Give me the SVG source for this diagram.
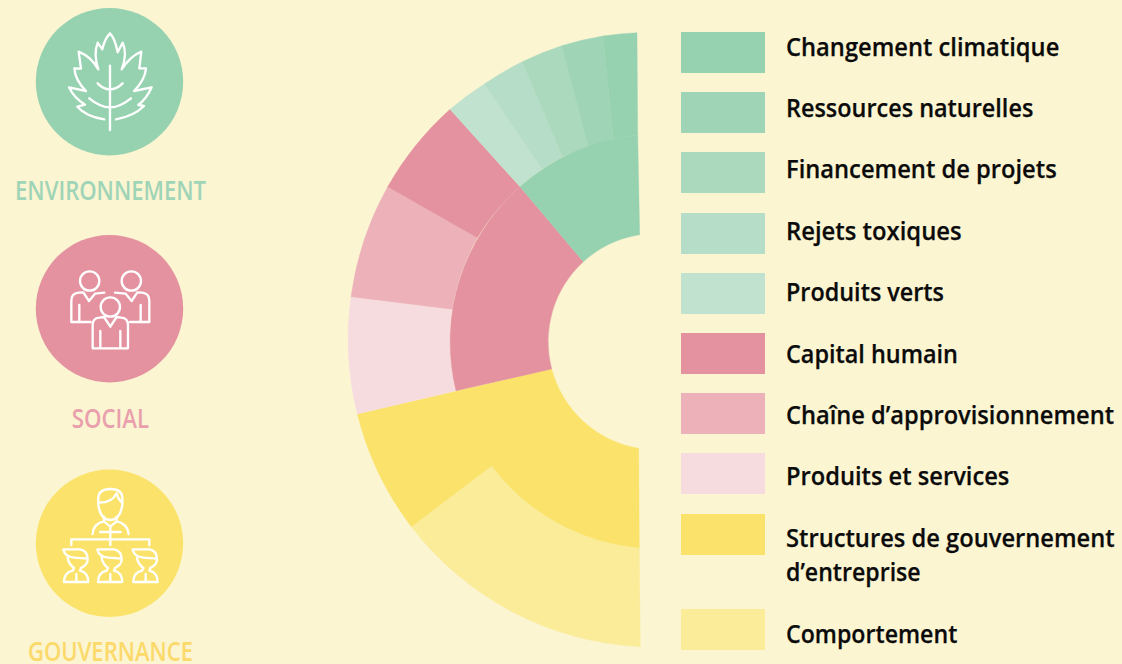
<svg xmlns="http://www.w3.org/2000/svg" width="1122" height="664" viewBox="0 0 1122 664">
<style>
.t{font-family:"Open Sans","Noto Sans","Liberation Sans",sans-serif;font-weight:600;font-size:26px;fill:#0b0b0b;stroke:#0b0b0b;stroke-width:.25}
.h{font-family:"Open Sans","Noto Sans","Liberation Sans",sans-serif;font-weight:600;font-size:27px;text-anchor:start}
.i{fill:none;stroke:#fff;stroke-width:7;stroke-linecap:round;stroke-linejoin:round}
.s path{stroke-width:.4}
.g1{fill:#97d2b0;stroke:#97d2b0}.g2{fill:#9fd4b6;stroke:#9fd4b6}.g3{fill:#aad9bd;stroke:#aad9bd}.g4{fill:#b6ddc7;stroke:#b6ddc7}.g5{fill:#c1e2cf;stroke:#c1e2cf}
.p1{fill:#e4929f;stroke:#e4929f}.p2{fill:#ecb1b9;stroke:#ecb1b9}.p3{fill:#f7dcdf;stroke:#f7dcdf}.y1{fill:#fbe36b;stroke:#fbe36b}.y2{fill:#fbec9a;stroke:#fbec9a}
.l rect,circle.n{stroke:none}
</style>
<defs>
<g id="fig" class="i">
<path d="M-38,8 L12,8 Q35,12 35,38 Q35,55 15,64 M-38,8 Q-35,30 -5,33 L35,36 M-25,34 Q-22,52 -6,64"/>
<path d="M-6,64 L-10,72 Q-36,78 -36,106 L37,106 Q37,78 12,72 L15,64"/>
<path d="M1,82 L1,106"/>
</g>
</defs>
<rect width="1122" height="664" fill="#fbf5d2"/>

<g id="environnement">
<circle class="g1 n" cx="109.5" cy="81.7" r="73.7"/>
<g transform="translate(20 0) scale(.3333)">
<path class="i" d="M253,358 C215,352 190,340 172,320 L195,314 C172,300 157,283 147,262 L198,273 C175,250 165,230 163,205 L183,206 L176,155 C200,165 222,185 235,208 C225,180 225,150 233,128 L247,148 C252,125 260,110 270,100 C280,110 288,130 293,157 L308,128 C318,150 318,175 305,208 C320,185 340,165 364,155 L358,205 L378,205 C376,230 365,250 342,273 L395,262 C385,285 372,302 355,315 L372,318 C350,340 322,352 288,358"/>
<path class="i" d="M270,197 L270,390 M233,250 Q250,268 270,268 Q290,268 308,250 M208,295 Q240,322 270,322 Q300,322 333,295"/>
</g>
<text class="h" x="15" y="199.7" fill="#a0d4b7" textLength="191" lengthAdjust="spacingAndGlyphs">ENVIRONNEMENT</text>
</g>

<g id="social">
<circle class="p1 n" cx="109.5" cy="308.7" r="73.7"/>
<g class="i" transform="translate(20 225) scale(.3333)">
<circle cx="209" cy="168" r="29"/>
<circle cx="334" cy="168" r="29"/>
<circle cx="271" cy="246" r="29"/>
<path d="M212,291 L154,291 L154,228 Q154,205 175,203 L190,202 L207,228 L225,206 L253,203 M178,240 L178,291"/>
<path d="M330,291 L388,291 L388,228 Q388,205 367,203 L352,202 L335,228 L317,206 L285,203 M362,240 L362,291"/>
<path d="M218,370 L218,300 Q218,280 238,278 L252,276 L271,305 L290,276 L304,278 Q324,280 324,300 L324,370 Z M241,318 L241,370 M301,318 L301,370"/>
</g>
<text class="h" x="71.7" y="428" fill="#e9a0ac" textLength="77.5" lengthAdjust="spacingAndGlyphs">SOCIAL</text>
</g>

<g id="gouvernance">
<circle class="y1 n" cx="109.5" cy="543.3" r="73.7"/>
<g transform="translate(20 460) scale(.3333)">
<g class="i">
<path d="M235,115 Q235,87 272,87 Q307,87 307,115 L307,135 Q300,180 271,180 Q242,180 235,135 Z"/>
<path d="M235,128 Q275,130 290,100 Q295,120 307,128"/>
<path d="M252,170 L252,184 Q220,190 218,222 M290,170 L290,184 Q322,190 326,222 M252,184 L271,200 L290,184 M271,198 L271,255 M240,216 L302,216 M154,255 L154,238 L388,238 L388,255"/>
</g>
<use href="#fig" x="168" y="260"/>
<use href="#fig" x="270" y="260"/>
<use href="#fig" x="376" y="260"/>
</g>
<text class="h" x="28" y="660.5" fill="#fbd96a" textLength="165" lengthAdjust="spacingAndGlyphs">GOUVERNANCE</text>
</g>

<g id="chart" class="s">
<path id="seg-comportement" class="y2" d="M491.7,465.7 A207,207 0 0 0 639.3,547.7 L640.3,646.7 A307,307 0 0 1 411.3,526.7 Z"/>
<path id="seg-structures" class="y1" d="M551.7,369 L357.3,414 A309,309 0 0 0 411.3,526.7 L491.7,465.7 A207,207 0 0 0 639.3,547.7 L638.7,448.3 A108,108 0 0 1 551.7,369 Z"/>
<path id="seg-produits-services" class="p3" d="M456,390.7 L357.3,414 A309,309 0 0 1 351,296.7 L452.3,309.3 A207,207 0 0 0 456,390.7 Z"/>
<path id="seg-chaine" class="p2" d="M452.3,309.3 L351,296.7 A309,309 0 0 1 387.7,186.7 L477.3,237.7 A207,207 0 0 0 452.3,309.3 Z"/>
<path id="seg-capital-ext" class="p1" d="M477.3,237.7 L387.7,186.7 A309,309 0 0 1 450,109.3 L520,186.7 A207,207 0 0 0 477.3,237.7 Z"/>
<path id="seg-capital" class="p1" d="M583.3,261.7 L520,186.7 A207,207 0 0 0 456,390.7 L551.7,369 A108,108 0 0 1 583.3,261.7 Z"/>
<path id="seg-produits-verts" class="g5" d="M520,186.7 L450,109.3 A309,309 0 0 1 484.3,84 L542,169 A207,207 0 0 0 520,186.7 Z"/>
<path id="seg-rejets" class="g4" d="M542,169 L484.3,84 A309,309 0 0 1 522.3,61.7 L562.7,156.7 A207,207 0 0 0 542,169 Z"/>
<path id="seg-financement" class="g3" d="M562.7,156.7 L522.3,61.7 A309,309 0 0 1 561.7,45.7 L588.3,146.7 A207,207 0 0 0 562.7,156.7 Z"/>
<path id="seg-ressources" class="g2" d="M588.3,146.7 L561.7,45.7 A309,309 0 0 1 603,36 L613.3,139 A207,207 0 0 0 588.3,146.7 Z"/>
<path id="seg-changement-ext" class="g1" d="M613.3,139 L603,36 A309,309 0 0 1 637,32.7 L637.7,135 A207,207 0 0 0 613.3,139 Z"/>
<path id="seg-changement" class="g1" d="M583.3,261.7 L520,186.7 A207,207 0 0 1 637.7,135 L639.7,234.7 A108,108 0 0 0 583.3,261.7 Z"/>
</g>

<g id="legend" class="l">
<g id="l1"><rect class="g1" x="681" y="32" width="84" height="41"/><text class="t" x="786" y="56" textLength="273.3" lengthAdjust="spacingAndGlyphs">Changement climatique</text></g>
<g id="l2"><rect class="g2" x="681" y="92" width="84" height="41"/><text class="t" x="786" y="117.3" textLength="247.3" lengthAdjust="spacingAndGlyphs">Ressources naturelles</text></g>
<g id="l3"><rect class="g3" x="681" y="152" width="84" height="41"/><text class="t" x="786" y="178.3" textLength="270.7" lengthAdjust="spacingAndGlyphs">Financement de projets</text></g>
<g id="l4"><rect class="g4" x="681" y="213" width="84" height="41"/><text class="t" x="786" y="239.7" textLength="175.7" lengthAdjust="spacingAndGlyphs">Rejets toxiques</text></g>
<g id="l5"><rect class="g5" x="681" y="273" width="84" height="41"/><text class="t" x="786" y="301.3" textLength="158" lengthAdjust="spacingAndGlyphs">Produits verts</text></g>
<g id="l6"><rect class="p1" x="681" y="333" width="84" height="41"/><text class="t" x="786" y="363.3" textLength="172" lengthAdjust="spacingAndGlyphs">Capital humain</text></g>
<g id="l7"><rect class="p2" x="681" y="393" width="84" height="41"/><text class="t" x="786" y="424" textLength="328" lengthAdjust="spacingAndGlyphs">Chaîne d’approvisionnement</text></g>
<g id="l8"><rect class="p3" x="681" y="453" width="84" height="41"/><text class="t" x="786" y="485" textLength="223.3" lengthAdjust="spacingAndGlyphs">Produits et services</text></g>
<g id="l9"><rect class="y1" x="681" y="514" width="84" height="41"/><text class="t" x="786" y="547.3" textLength="328.7" lengthAdjust="spacingAndGlyphs">Structures de gouvernement</text><text class="t" x="786" y="581.3" textLength="134.7" lengthAdjust="spacingAndGlyphs">d’entreprise</text></g>
<g id="l10"><rect class="y2" x="681" y="609" width="84" height="41"/><text class="t" x="786" y="643.3" textLength="171.3" lengthAdjust="spacingAndGlyphs">Comportement</text></g>
</g>
</svg>
